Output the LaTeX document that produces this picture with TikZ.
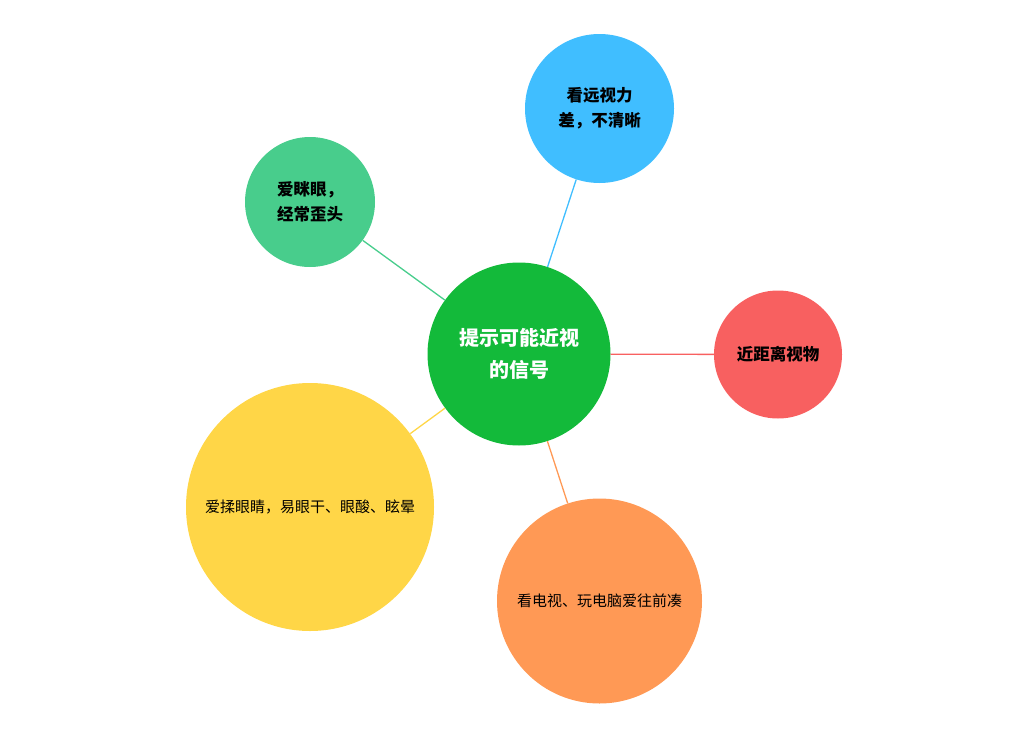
\documentclass[tikz,border=0pt]{standalone}
\usepackage{fontspec}
\newfontfamily\cjk{Noto Sans CJK SC}
\usepackage{tikz}

\definecolor{hubgreen}{HTML}{13BA3A}
\definecolor{skyblue}{HTML}{40BEFF}
\definecolor{mintgreen}{HTML}{48CD8C}
\definecolor{coral}{HTML}{F86060}
\definecolor{sunyellow}{HTML}{FFD647}
\definecolor{peach}{HTML}{FF9955}

\tikzset{
    bubble/.style={circle, inner sep=0pt, align=center, text=black},
    bigtext/.style={font=\cjk\bfseries\fontsize{16.5}{25}\selectfont},
    smalltext/.style={font=\cjk\fontsize{15}{22}\selectfont},
    link/.style={line width=1.3pt}
}

\begin{document}
\begin{tikzpicture}[x=1pt, y=-1pt]
    \useasboundingbox (0,0) rectangle (1028,736);

    % centre topic
    \node[bubble, fill=hubgreen, minimum size=183pt, text=white,
          font=\cjk\bfseries\fontsize{20}{32}\selectfont] (hub) at (519,354) {提示可能近视\\的信号};

    % signals
    \node[bubble, bigtext, fill=skyblue, minimum size=149pt] (far) at (599.5,108.5) {看远视力\\差，不清晰};
    \node[bubble, bigtext, fill=mintgreen, minimum size=130pt] (squint) at (310,202) {爱眯眼，\\经常歪头};
    \node[bubble, bigtext, fill=coral, minimum size=128pt] (near) at (778,354.5) {近距离视物};
    \node[bubble, smalltext, fill=sunyellow, minimum size=248pt] (rub) at (310,507) {爱揉眼睛，易眼干、眼酸、眩晕};
    \node[bubble, smalltext, fill=peach, minimum size=205pt] (screen) at (599.5,601) {看电视、玩电脑爱往前凑};

    % connectors
    \draw[link, skyblue] (hub) -- (far);
    \draw[link, mintgreen] (hub) -- (squint);
    \draw[link, coral] (hub) -- (near);
    \draw[link, sunyellow] (hub) -- (rub);
    \draw[link, peach] (hub) -- (screen);
\end{tikzpicture}
\end{document}
